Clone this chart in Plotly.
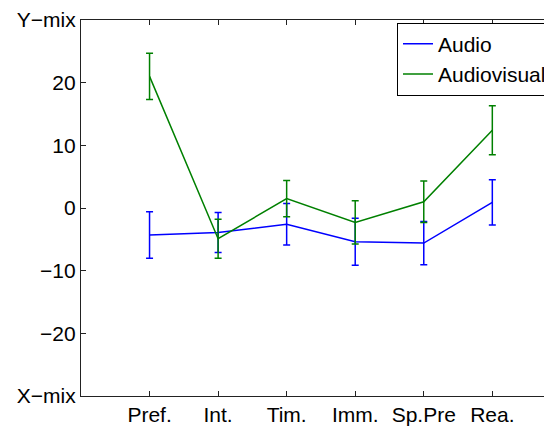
import plotly.graph_objects as go

categories = ["Pref.", "Int.", "Tim.", "Imm.", "Sp.Pre", "Rea."]
x_pos = [1, 2, 3, 4, 5, 6]
audio_mean = [-4.3, -3.9, -2.6, -5.4, -5.6, 0.9]
audio_err = [3.7, 3.2, 3.3, 3.75, 3.45, 3.6]
av_mean = [21.0, -4.9, 1.5, -2.3, 1.0, 12.4]
av_err = [3.7, 3.1, 2.9, 3.45, 3.3, 3.9]
y_tickvals = [-30, -20, -10, 0, 10, 20, 30]
y_ticktext = ["X−mix", "−20", "−10", "0", "10", "20", "Y−mix"]

FONT = "Liberation Sans, Arial, Helvetica, sans-serif"
FS = 21

fig = go.Figure()
fig.add_trace(go.Scatter(
    x=x_pos, y=audio_mean, mode="lines", name="Audio",
    line=dict(color="#0000FF", width=1.5),
    error_y=dict(type="data", array=audio_err, visible=True,
                 color="#0000FF", thickness=1.5, width=3.5),
))
fig.add_trace(go.Scatter(
    x=x_pos, y=av_mean, mode="lines", name="Audiovisual",
    line=dict(color="#008000", width=1.5),
    error_y=dict(type="data", array=av_err, visible=True,
                 color="#008000", thickness=1.5, width=3.5),
))

axis_common = dict(
    showgrid=False, zeroline=False, showline=True, linecolor="#222222",
    linewidth=1.3, mirror="ticks", ticks="inside", ticklen=5,
    tickcolor="#222222", tickwidth=1, ticklabeloverflow="allow",
    tickfont=dict(family=FONT, size=FS, color="black"),
)

fig.update_layout(
    width=544, height=418,
    margin=dict(l=73, r=0, t=11, b=29),
    paper_bgcolor="white", plot_bgcolor="white",
    font=dict(family=FONT, size=FS, color="black"),
    xaxis=dict(range=[0, 6.856], tickvals=x_pos, ticktext=categories,
               **axis_common),
    yaxis=dict(range=[-30, 30], tickvals=y_tickvals, ticktext=y_ticktext,
               **axis_common),
    legend=dict(x=0.673, y=0.993, xanchor="left", yanchor="top",
                bgcolor="white", bordercolor="black", borderwidth=1,
                font=dict(family=FONT, size=FS, color="black"),
                tracegroupgap=0, itemwidth=30),
    showlegend=True,
)

fig.write_html("out.html")
